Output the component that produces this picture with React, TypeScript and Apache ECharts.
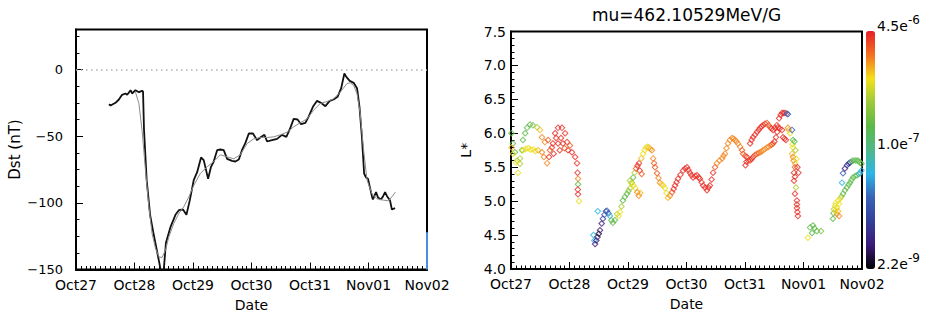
import React, { useEffect, useRef } from 'react';
import * as echarts from 'echarts';

// ---------- data ----------
const dateLabels = ['Oct27', 'Oct28', 'Oct29', 'Oct30', 'Oct31', 'Nov01', 'Nov02'];

// hours since Oct27 00:00, Dst (nT)
const dstObserved: [number, number][] = [
  [13.5, -26], [14.2, -27], [16.2, -25], [17.6, -22.5], [18.9, -19], [20.3, -18], [21.0, -19],
  [22.4, -15.5], [23.0, -18], [24.4, -15.5], [25.8, -17], [27.1, -16], [27.5, -16.5], [27.9, -45],
  [29.0, -83], [30.4, -109], [31.7, -122], [33.1, -135], [34.5, -148], [35.3, -160], [36.1, -148],
  [36.9, -130], [38.8, -118], [40.8, -109], [42.2, -105.5], [43.9, -105], [45.3, -109], [46.7, -98],
  [48.3, -83], [49.7, -77], [51.3, -66], [52.4, -68], [54.2, -82], [55.4, -73], [56.5, -69],
  [57.9, -60.5], [59.2, -60], [60.6, -60.5], [62.0, -67], [64.0, -68.5], [65.4, -69], [66.8, -67.5],
  [68.1, -60.5], [69.5, -55], [70.9, -48], [72.6, -48], [74.3, -53], [75.6, -51], [77.3, -49],
  [78.4, -54], [80.4, -53], [82.5, -52], [84.5, -49], [86.3, -50.5], [87.9, -44], [89.3, -37],
  [90.9, -37.5], [92.3, -41], [94.1, -40], [95.4, -35.5], [97.2, -28], [98.9, -23.5], [100.5, -25],
  [102.3, -27.5], [104.1, -23.5], [105.7, -22.5], [107.3, -20.5], [108.8, -14], [110.1, -3],
  [110.9, -5.5], [112.3, -8.5], [113.9, -10], [115.3, -14], [116.3, -28], [117.3, -50.5],
  [118.2, -78], [119.0, -81], [119.8, -82], [121.4, -95], [121.8, -97.5], [123.1, -92], [123.9, -96],
  [125.1, -97.5], [126.0, -95], [126.8, -92], [127.6, -95], [128.8, -98], [129.6, -105], [130.9, -104],
];

const dstModel: [number, number][] = [
  [24.4, -17], [25.8, -25.5], [27.1, -45.5], [28.5, -75.5], [29.9, -103], [31.2, -123], [32.6, -134],
  [34.0, -140.5], [35.3, -141], [36.7, -135.5], [38.1, -125.5], [40.1, -115.5], [42.2, -108],
  [44.2, -103], [46.3, -95.5], [48.3, -87], [51.0, -78], [53.8, -73], [56.5, -69], [59.2, -64],
  [62.0, -65.5], [64.7, -67], [67.4, -64], [70.2, -55.5], [72.9, -52], [75.6, -51], [78.4, -51],
  [81.1, -50.5], [83.8, -49], [86.6, -47], [89.3, -43], [92.0, -40], [94.8, -37], [97.5, -30.5],
  [100.2, -25.5], [103.0, -24], [105.7, -22], [108.4, -17], [111.2, -10.5], [112.5, -10],
  [113.9, -12], [115.3, -18], [116.6, -33], [118.0, -60.5], [119.4, -83], [121.4, -93],
  [123.5, -97], [126.2, -98], [128.2, -98.5], [129.6, -95.5], [131.0, -92],
];

const edgeMark: [number, number][] = [[144, -150], [144, -122]];

// [hours since Oct27, L*, phase space density]
const psdOct27: [number, number, number][] = [
  [0.2, 6.00, 2.1e-7], [0.8, 5.85, 2.1e-7], [1.6, 5.72, 2.1e-7], [2.5, 5.60, 5.3e-7], [2.9, 5.42, 9.1e-7],
  [3.7, 5.55, 5.3e-7], [4.5, 5.75, 2.1e-7], [4.9, 5.90, 2.1e-7], [5.8, 6.00, 2.1e-7], [6.6, 6.08, 2.1e-7],
  [7.8, 6.13, 2.1e-7], [9.0, 6.12, 3.0e-7], [10.7, 6.09, 5.3e-7], [11.9, 6.05, 1.3e-6], [12.7, 5.94, 1.8e-6],
  [13.9, 5.87, 1.8e-6], [15.2, 5.90, 2.6e-6],
  [0.2, 5.79, 1.3e-6], [0.8, 5.70, 9.1e-7], [2.1, 5.57, 9.1e-7], [3.7, 5.63, 5.3e-7], [4.9, 5.75, 9.1e-7],
  [6.0, 5.77, 9.1e-7], [7.0, 5.78, 9.1e-7], [8.0, 5.76, 9.1e-7], [9.0, 5.76, 9.1e-7], [10.0, 5.74, 9.1e-7],
  [11.1, 5.75, 1.3e-6], [12.7, 5.72, 1.8e-6], [13.5, 5.65, 1.8e-6], [14.8, 5.56, 1.8e-6], [15.6, 5.65, 3.9e-6],
  [16.8, 5.79, 3.9e-6], [18.1, 6.00, 3.9e-6], [19.3, 6.08, 3.9e-6], [20.9, 6.08, 3.9e-6], [22.2, 6.00, 3.9e-6],
  [23.0, 5.87, 3.9e-6], [23.4, 5.75, 3.9e-6], [25.0, 5.72, 3.9e-6], [26.3, 5.65, 3.9e-6], [27.1, 5.56, 3.9e-6],
  [17.2, 5.85, 3.9e-6], [18.5, 5.93, 3.9e-6], [19.3, 5.85, 3.9e-6], [20.5, 5.93, 3.9e-6], [21.3, 5.85, 3.9e-6],
  [22.0, 5.78, 2.6e-6], [24.2, 5.82, 2.6e-6], [16.0, 5.75, 2.6e-6], [17.5, 5.70, 3.9e-6], [20.0, 5.75, 3.9e-6],
  [27.3, 5.42, 3.9e-6], [27.5, 5.33, 1.8e-6], [27.5, 5.25, 2.1e-7], [27.4, 5.17, 3.9e-6], [27.5, 5.10, 3.9e-6],
  [27.9, 5.00, 9.1e-7],
];

const psdOct28: [number, number, number][] = [
  [33.8, 4.50, 4.6e-8], [34.2, 4.42, 4.6e-8], [34.5, 4.37, 4.7e-9], [35.0, 4.42, 4.7e-9], [35.5, 4.47, 4.7e-9],
  [35.6, 4.85, 4.6e-8], [36.0, 4.52, 2.5e-9], [36.5, 4.57, 4.7e-9], [37.2, 4.67, 4.7e-9], [37.7, 4.74, 1.0e-8],
  [38.3, 4.80, 1.9e-8], [38.9, 4.85, 1.9e-8], [39.4, 4.86, 1.9e-8], [40.0, 4.82, 1.9e-8], [40.6, 4.78, 4.6e-8],
  [41.2, 4.72, 2.1e-7], [41.8, 4.68, 2.1e-7], [42.6, 4.72, 2.1e-7], [43.5, 4.81, 5.3e-7], [44.1, 4.78, 9.1e-7],
  [44.7, 4.84, 9.1e-7], [45.3, 4.92, 5.3e-7], [45.9, 5.01, 2.1e-7], [46.7, 5.06, 2.1e-7], [47.6, 5.11, 2.1e-7],
  [48.2, 5.15, 3.0e-7], [48.8, 5.19, 5.3e-7], [49.5, 5.27, 2.1e-7], [50.1, 5.35, 2.1e-7], [50.7, 5.42, 5.3e-7],
  [51.3, 5.48, 2.6e-6], [51.9, 5.52, 3.9e-6], [52.5, 5.56, 3.9e-6], [53.4, 5.63, 1.3e-6], [54.2, 5.70, 9.1e-7],
  [54.8, 5.75, 9.1e-7], [55.4, 5.79, 9.1e-7], [56.0, 5.80, 9.1e-7], [56.6, 5.79, 1.3e-6], [57.2, 5.77, 1.3e-6],
  [57.8, 5.75, 1.8e-6], [58.3, 5.63, 1.8e-6], [58.7, 5.56, 2.6e-6], [59.1, 5.50, 2.6e-6], [59.9, 5.41, 2.6e-6],
  [60.5, 5.34, 1.8e-6], [61.1, 5.27, 1.8e-6], [61.8, 5.25, 1.3e-6], [62.4, 5.23, 9.1e-7], [63.2, 5.19, 9.1e-7],
  [63.8, 5.12, 9.1e-7], [64.4, 5.05, 1.3e-6], [65.2, 5.08, 1.8e-6], [66.1, 5.13, 2.6e-6], [66.7, 5.18, 3.9e-6],
  [67.3, 5.23, 3.9e-6], [67.9, 5.28, 3.9e-6], [68.5, 5.33, 3.9e-6], [69.5, 5.39, 3.9e-6], [70.6, 5.45, 3.9e-6],
  [71.4, 5.48, 3.9e-6], [72.2, 5.50, 3.9e-6], [72.8, 5.46, 3.9e-6], [73.4, 5.42, 3.9e-6], [74.0, 5.38, 3.9e-6],
  [74.7, 5.35, 3.9e-6], [75.5, 5.37, 3.9e-6], [76.3, 5.38, 3.9e-6], [77.0, 5.35, 3.9e-6], [77.5, 5.33, 3.9e-6],
  [78.2, 5.28, 3.9e-6], [78.8, 5.23, 3.9e-6], [79.6, 5.20, 3.9e-6], [80.4, 5.16, 3.9e-6], [81.0, 5.20, 3.9e-6],
  [81.6, 5.23, 3.9e-6], [82.3, 5.32, 3.9e-6], [82.9, 5.42, 3.9e-6], [83.7, 5.50, 2.6e-6], [84.5, 5.56, 1.8e-6],
  [85.5, 5.60, 1.8e-6], [86.6, 5.63, 1.8e-6], [87.2, 5.67, 1.8e-6], [87.8, 5.70, 1.8e-6], [88.4, 5.78, 1.8e-6],
  [89.0, 5.85, 1.8e-6], [89.8, 5.90, 1.8e-6], [90.7, 5.93, 1.8e-6], [91.3, 5.92, 1.8e-6], [91.9, 5.90, 1.8e-6],
  [92.5, 5.88, 1.8e-6], [93.1, 5.85, 1.8e-6], [94.0, 5.80, 1.8e-6], [94.8, 5.75, 2.6e-6], [95.2, 5.70, 2.6e-6],
  [96.0, 5.67, 2.6e-6], [96.8, 5.65, 3.9e-6],
  [48.8, 5.30, 5.3e-7], [49.5, 5.26, 9.1e-7], [50.2, 5.23, 9.1e-7], [51.0, 5.19, 9.1e-7], [51.8, 5.13, 1.8e-6],
  [52.4, 5.08, 1.8e-6], [53.0, 5.12, 1.3e-6], [52.8, 5.45, 3.9e-6], [53.6, 5.40, 2.6e-6],
];

const psdOct31: [number, number, number][] = [
  [98.1, 5.85, 3.9e-6], [98.7, 5.90, 3.9e-6], [99.3, 5.94, 3.9e-6], [100.1, 5.98, 3.9e-6], [100.9, 6.02, 3.9e-6],
  [101.6, 6.05, 3.9e-6], [102.2, 6.08, 3.9e-6], [102.8, 6.10, 3.9e-6], [103.4, 6.12, 3.9e-6], [104.2, 6.14, 3.9e-6],
  [105.0, 6.15, 2.6e-6], [105.7, 6.12, 2.6e-6], [106.3, 6.09, 2.6e-6], [106.9, 6.07, 3.9e-6], [107.5, 6.05, 3.9e-6],
  [108.3, 6.08, 3.9e-6], [109.1, 6.12, 3.9e-6], [110.0, 6.22, 3.9e-6], [110.6, 6.27, 3.9e-6], [111.2, 6.30, 3.9e-6],
  [111.8, 6.30, 3.9e-6], [112.4, 6.30, 3.9e-6], [113.2, 6.29, 1.9e-8], [113.6, 6.28, 1.9e-8],
  [97.4, 5.60, 3.9e-6], [98.1, 5.60, 2.6e-6], [98.7, 5.62, 3.9e-6], [99.3, 5.65, 3.9e-6], [100.1, 5.68, 2.6e-6],
  [100.9, 5.70, 2.6e-6], [101.6, 5.71, 2.6e-6], [102.2, 5.72, 1.8e-6], [102.8, 5.73, 1.8e-6], [103.4, 5.75, 1.8e-6],
  [104.2, 5.77, 1.8e-6], [105.0, 5.79, 1.8e-6], [105.7, 5.80, 1.8e-6], [106.3, 5.82, 1.8e-6], [106.9, 5.83, 2.6e-6],
  [107.5, 5.85, 2.6e-6], [108.1, 5.88, 3.9e-6], [108.7, 5.94, 3.9e-6], [109.2, 6.02, 3.9e-6], [109.5, 6.09, 3.9e-6],
  [110.3, 6.07, 3.9e-6], [111.2, 6.05, 3.9e-6], [111.6, 5.94, 3.9e-6], [112.2, 5.92, 3.9e-6], [112.8, 5.90, 3.9e-6],
  [96.2, 5.53, 3.9e-6], [96.6, 5.58, 3.9e-6],
];

const psdNov01: [number, number, number][] = [
  [113.6, 6.08, 1.8e-6], [114.0, 6.05, 1.3e-6], [114.5, 6.00, 9.1e-7], [115.3, 6.05, 1.9e-8], [115.7, 5.90, 2.1e-7],
  [115.5, 5.84, 9.1e-7], [115.7, 5.79, 9.1e-7], [115.3, 5.70, 1.3e-6], [115.7, 5.65, 1.8e-6], [115.9, 5.60, 1.8e-6],
  [116.5, 5.55, 1.3e-6], [116.5, 5.50, 2.6e-6], [116.1, 5.42, 3.9e-6], [116.5, 5.36, 3.9e-6], [116.1, 5.30, 3.9e-6],
  [116.9, 5.20, 5.3e-7], [116.5, 5.11, 3.9e-6], [117.3, 5.01, 3.9e-6], [117.3, 4.95, 3.9e-6], [117.3, 4.90, 3.9e-6],
  [117.5, 4.84, 3.9e-6], [117.7, 4.78, 3.9e-6],
  [116.3, 5.88, 2.1e-7], [116.7, 5.75, 5.3e-7], [117.1, 5.62, 9.1e-7], [117.5, 5.50, 3.9e-6], [117.9, 5.42, 3.9e-6],
  [121.8, 4.46, 9.1e-7], [122.7, 4.61, 2.1e-7], [123.5, 4.53, 2.1e-7], [123.9, 4.64, 2.1e-7], [124.5, 4.60, 2.1e-7],
  [125.5, 4.56, 2.1e-7], [127.2, 4.56, 3.0e-7],
  [132.1, 4.74, 2.1e-7], [132.3, 4.82, 2.1e-7], [132.5, 4.88, 5.3e-7], [133.0, 4.93, 9.1e-7], [133.7, 4.90, 9.1e-7],
  [134.2, 5.01, 9.1e-7], [135.0, 5.04, 9.1e-7], [133.7, 4.81, 1.8e-6], [134.6, 4.78, 1.8e-6], [134.2, 4.85, 1.3e-6],
  [133.2, 4.97, 9.1e-7], [134.6, 4.96, 9.1e-7], [133.0, 4.86, 9.1e-7],
  [135.6, 5.07, 5.3e-7], [136.2, 5.11, 2.1e-7], [137.0, 5.16, 2.1e-7], [137.8, 5.20, 2.1e-7], [138.5, 5.24, 2.1e-7],
  [139.1, 5.27, 2.1e-7], [139.7, 5.31, 2.1e-7], [140.3, 5.35, 2.1e-7], [141.2, 5.37, 2.1e-7], [142.0, 5.38, 2.1e-7],
  [142.6, 5.40, 1.0e-7], [143.2, 5.41, 4.6e-8], [143.8, 5.45, 4.6e-8],
  [135.8, 5.27, 4.6e-8], [136.2, 5.41, 1.9e-8], [137.0, 5.48, 4.7e-9], [137.8, 5.53, 1.0e-8], [138.5, 5.55, 1.0e-8],
  [139.1, 5.57, 4.7e-9], [139.7, 5.58, 1.0e-7], [140.3, 5.60, 2.1e-7], [141.2, 5.60, 2.1e-7], [142.0, 5.60, 2.1e-7],
  [142.6, 5.59, 2.1e-7], [143.2, 5.57, 2.1e-7], [143.8, 5.55, 2.1e-7],
];

const psdMin = 2.2e-9;
const psdMax = 4.5e-6;
const colorbarTicks = [
  { value: 4.5e-6, mant: '4.5e', exp: '-6' },
  { value: 1.0e-7, mant: '1.0e', exp: '-7' },
  { value: 2.2e-9, mant: '2.2e', exp: '-9' },
];
const rainbow = ['#000000', '#3d1a78', '#34409a', '#3a62b5', '#2cb5e8', '#4fb88a', '#5cb947', '#9cc93b', '#f4e01a', '#f37021', '#e41f26'];

const FONT = 'DejaVu Sans';
const DIAMOND = 'path://M5 0L10 5L5 10L0 5Z M5 2.1L2.1 5L5 7.9L7.9 5Z';

export default function App() {
  const ref = useRef<HTMLDivElement>(null);

  useEffect(() => {
    if (!ref.current) return;
    const chart = echarts.init(ref.current, undefined, { renderer: 'svg' });

    const L = { left: 76, top: 29.5, width: 351, height: 240 };
    const R = { left: 511, top: 31.5, width: 351, height: 237.5 };
    const cb = { left: 866, top: 31, width: 9, height: 238 };
    const box = { show: true, borderColor: '#000', borderWidth: 2, backgroundColor: 'transparent' };

    const lmin = Math.log10(psdMin);
    const lmax = Math.log10(psdMax);
    const psdData = [...psdOct27, ...psdOct28, ...psdOct31, ...psdNov01].map(([h, l, p]) => [h, l, Math.log10(p)]);

    const xAx = (gridIndex: number) => ({
      type: 'value',
      gridIndex,
      position: 'bottom',
      min: 0,
      max: 144,
      interval: 24,
      axisLine: { show: true, onZero: false, lineStyle: { color: '#000', width: 2 } },
      axisTick: { show: true, inside: true, length: 7 },
      minorTick: { show: true, splitNumber: 12, length: 3.5 },
      splitLine: { show: false },
      axisLabel: {
        show: true,
        margin: 8,
        fontFamily: FONT,
        fontSize: 14,
        color: '#000',
        formatter: (v: number) => dateLabels[Math.round(v / 24)] ?? '',
      },
      name: 'Date',
      nameLocation: 'middle',
      nameGap: 28,
      nameTextStyle: { fontFamily: FONT, fontSize: 14, color: '#000' },
    });

    chart.setOption({
      animation: false,
      backgroundColor: '#fff',
      textStyle: { fontFamily: FONT },
      grid: [
        { ...L, ...box },
        { ...R, ...box },
      ],
      xAxis: [xAx(0), xAx(1)],
      yAxis: [
        {
          type: 'value',
          gridIndex: 0,
          position: 'left',
          min: -150,
          max: 30,
          interval: 50,
          axisLine: { show: true, onZero: false, lineStyle: { color: '#000', width: 2 } },
          axisTick: { show: true, inside: true, length: 7 },
          minorTick: { show: true, splitNumber: 4, length: 3.5 },
          splitLine: { show: false },
          axisLabel: {
            show: true,
            showMaxLabel: false,
            margin: 13,
            fontFamily: FONT,
            fontSize: 13,
            color: '#000',
            formatter: (v: number) => (v < 0 ? '\u2212' + Math.abs(v) : String(v)),
          },
          name: 'Dst (nT)',
          nameLocation: 'middle',
          nameGap: 54,
          nameRotate: 90,
          nameTextStyle: { fontFamily: FONT, fontSize: 15, color: '#000' },
        },
        {
          type: 'value',
          gridIndex: 1,
          position: 'left',
          min: 4,
          max: 7.5,
          interval: 0.5,
          axisLine: { show: true, onZero: false, lineStyle: { color: '#000', width: 2 } },
          axisTick: { show: true, inside: true, length: 7 },
          minorTick: { show: true, splitNumber: 5, length: 3.5 },
          splitLine: { show: false },
          axisLabel: {
            show: true,
            margin: 5,
            fontFamily: FONT,
            fontSize: 14,
            color: '#000',
            formatter: (v: number) => v.toFixed(1),
          },
          name: 'L*',
          nameLocation: 'middle',
          nameGap: 38,
          nameRotate: 90,
          nameTextStyle: { fontFamily: FONT, fontSize: 14, color: '#000' },
        },
      ],
      visualMap: [
        {
          type: 'continuous',
          seriesIndex: 3,
          dimension: 2,
          min: lmin,
          max: lmax,
          calculable: false,
          orient: 'vertical',
          left: cb.left,
          top: cb.top,
          itemWidth: cb.width,
          itemHeight: cb.height,
          padding: 0,
          inRange: { color: rainbow },
          textStyle: { color: 'transparent' },
        },
      ],
      graphic: [
        {
          type: 'text',
          x: R.left + R.width / 2,
          y: 15,
          style: { text: 'mu=462.10529MeV/G', fontFamily: FONT, fontSize: 17, fill: '#000', align: 'center', verticalAlign: 'middle' },
        },
        ...colorbarTicks.flatMap((t) => {
          const y = cb.top + (1 - (Math.log10(t.value) - lmin) / (lmax - lmin)) * cb.height;
          return [
            {
              type: 'text',
              x: cb.left + cb.width + 2,
              y: y - 5.5,
              style: { text: t.mant, fontFamily: FONT, fontSize: 14, fill: '#000', align: 'left', verticalAlign: 'middle' },
            },
            {
              type: 'text',
              x: cb.left + cb.width + 33,
              y: y - 11.5,
              style: { text: t.exp, fontFamily: FONT, fontSize: 12, fill: '#000', align: 'left', verticalAlign: 'middle' },
            },
          ];
        }),
      ],
      series: [
        {
          type: 'line',
          name: 'Dst observed',
          xAxisIndex: 0,
          yAxisIndex: 0,
          data: dstObserved,
          showSymbol: false,
          lineStyle: { color: '#111', width: 1.8 },
          markLine: {
            silent: true,
            symbol: 'none',
            label: { show: false },
            lineStyle: { color: '#b0b0b0', type: [1.5, 3.5], width: 1.5 },
            data: [{ yAxis: 0 }],
          },
        },
        {
          type: 'line',
          name: 'Dst model',
          xAxisIndex: 0,
          yAxisIndex: 0,
          data: dstModel,
          showSymbol: false,
          lineStyle: { color: '#8c8c8c', width: 1 },
        },
        {
          type: 'line',
          name: 'edge',
          xAxisIndex: 0,
          yAxisIndex: 0,
          data: edgeMark,
          showSymbol: false,
          clip: false,
          z: 5,
          lineStyle: { color: '#4a8fe0', width: 2 },
        },
        {
          type: 'scatter',
          name: 'PSD',
          xAxisIndex: 1,
          yAxisIndex: 1,
          data: psdData,
          symbol: DIAMOND,
          symbolSize: 7,
        },
      ],
    });

    return () => chart.dispose();
  }, []);

  return <div ref={ref} style={{ position: 'fixed', left: 0, top: 0, width: 933, height: 317 }} />;
}
